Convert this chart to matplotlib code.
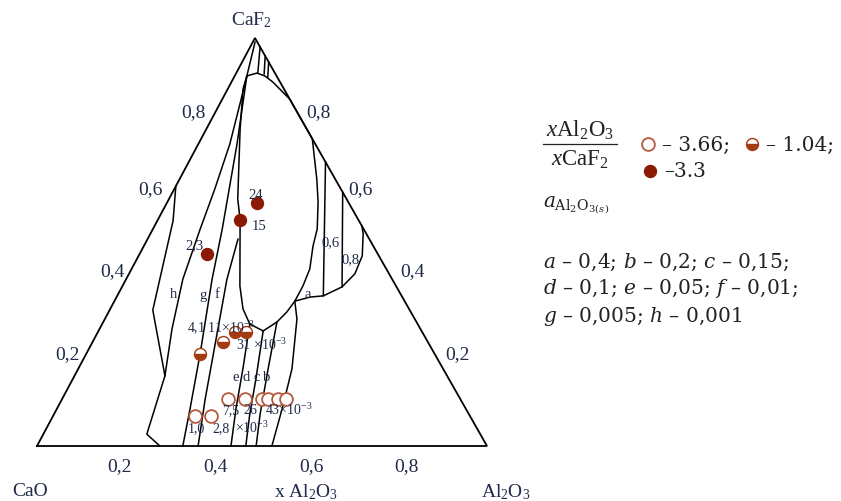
import matplotlib
matplotlib.use("Agg")
import matplotlib.pyplot as plt
import numpy as np

plt.rcParams['font.family'] = ['Liberation Serif', 'DejaVu Serif']
plt.rcParams['mathtext.fontset'] = 'custom'
plt.rcParams['mathtext.rm'] = 'Liberation Serif'
plt.rcParams['mathtext.it'] = 'Liberation Serif:italic'

W, H = 841, 502

# ---------------- data: compositions (x_Al2O3, x_CaF2) ----------------
# boundary near CaO side
bnd_cao_al = [0.000, 0.035, 0.096, 0.201, 0.230, 0.273]
bnd_cao_f = [0.637, 0.552, 0.333, 0.172, 0.029, 0.000]
# iso-activity lines of Al2O3
iso_h_al = [0.027, 0.045, 0.070, 0.090, 0.105, 0.126, 0.161, 0.201]
iso_h_f = [0.907, 0.838, 0.740, 0.630, 0.532, 0.409, 0.287, 0.172]
iso_g_al = [0.027, 0.086, 0.154, 0.191, 0.253, 0.296, 0.324]
iso_g_f = [0.907, 0.740, 0.532, 0.409, 0.226, 0.091, 0.000]
iso_f_al = [0.201, 0.224, 0.271, 0.318, 0.358]
iso_f_f = [0.507, 0.409, 0.262, 0.115, 0.000]
iso_e_al = [0.328, 0.366, 0.398, 0.431]
iso_e_f = [0.299, 0.189, 0.091, 0.000]
iso_d_al = [0.366, 0.407, 0.435, 0.464]
iso_d_f = [0.282, 0.164, 0.078, 0.000]
iso_c_al = [0.386, 0.422, 0.458, 0.487]
iso_c_f = [0.304, 0.189, 0.078, 0.000]
iso_b_al = [0.401, 0.427, 0.475, 0.499, 0.522]
iso_b_f = [0.355, 0.311, 0.189, 0.098, 0.000]
iso_a_al = [0.401, 0.430, 0.458, 0.489, 0.502, 0.497, 0.473, 0.461]
iso_a_f = [0.355, 0.365, 0.368, 0.390, 0.422, 0.466, 0.520, 0.539]
iso_06_al = [0.304, 0.458]
iso_06_f = [0.696, 0.368]
iso_08_al = [0.378, 0.489]
iso_08_f = [0.622, 0.390]
# two-liquid (miscibility) region
gap_al = [0.027, 0.046, 0.067, 0.092, 0.150, 0.247, 0.305, 0.335, 0.365, 0.376,
          0.396, 0.401, 0.401, 0.396, 0.386, 0.366, 0.328, 0.295, 0.261, 0.182,
          0.153, 0.075, 0.034, 0.027]
gap_f = [0.907, 0.914, 0.907, 0.892, 0.850, 0.753, 0.654, 0.598, 0.532, 0.490,
         0.434, 0.392, 0.355, 0.328, 0.304, 0.282, 0.299, 0.336, 0.392, 0.556,
         0.605, 0.777, 0.875, 0.907]
apex_al = [0.005, 0.027]
apex_f = [0.990, 0.907]
hatch_al = [[0.022, 0.048], [0.044, 0.063], [0.059, 0.075]]
hatch_f = [[0.978, 0.914], [0.956, 0.912], [0.941, 0.904]]

# experimental points, grouped by xAl2O3/xCaF2
pts_033_al = [0.200, 0.183, 0.150]
pts_033_f = [0.596, 0.554, 0.471]
pts_104_al = [0.253, 0.290, 0.305, 0.329]
pts_104_f = [0.226, 0.255, 0.279, 0.279]
pts_366_al = [0.316, 0.351, 0.369, 0.406, 0.444, 0.458, 0.480, 0.498]
pts_366_f = [0.074, 0.074, 0.115, 0.115, 0.115, 0.115, 0.115, 0.115]

tick_vals = [0.2, 0.4, 0.6, 0.8]
tick_text = ['0,2', '0,4', '0,6', '0,8']

# ---------------- geometry ----------------
APX, APY = 0.4844, 0.9067   # apex of drawn triangle in x_Al2O3 units
X0, Y0, S = 37.0, 447.0, 450.0  # pixel placement of CaO corner and scale


def cart(al, caf):
    al = np.asarray(al, float)
    caf = np.asarray(caf, float)
    return al + APX * caf, APY * caf


fig = plt.figure(figsize=(W / 100, H / 100), dpi=100)
ax = fig.add_axes([0, 0, 1, 1])
ax.set_xlim(-X0 / S, (W - X0) / S)
ax.set_ylim((Y0 - H) / S, Y0 / S)
ax.axis('off')

LC = 'black'
LW = 1.1

# triangle
tx, ty = cart([0, 1, 0, 0], [0, 0, 1, 0])
ax.plot(tx, ty, color=LC, lw=1.3, solid_joinstyle='miter')

for al, f in [(bnd_cao_al, bnd_cao_f), (iso_h_al, iso_h_f), (iso_g_al, iso_g_f),
              (iso_f_al, iso_f_f), (iso_e_al, iso_e_f), (iso_d_al, iso_d_f),
              (iso_c_al, iso_c_f), (iso_b_al, iso_b_f), (iso_a_al, iso_a_f),
              (iso_06_al, iso_06_f), (iso_08_al, iso_08_f), (gap_al, gap_f),
              (apex_al, apex_f)] + list(zip(hatch_al, hatch_f)):
    x, y = cart(al, f)
    ax.plot(x, y, color=LC, lw=LW)

C_FULL = '#8b1a04'
C_HALF = '#a33a12'
C_OPEN = '#b55a3c'

x, y = cart(pts_366_al, pts_366_f)
ax.plot(x, y, 'o', ls='none', ms=9.2, mfc='white', mec=C_OPEN, mew=1.3, zorder=5)
x, y = cart(pts_104_al, pts_104_f)
ax.plot(x, y, 'o', ls='none', ms=8.6, fillstyle='bottom', mfc=C_HALF,
        mfcalt='white', mec=C_HALF, mew=1.0, zorder=5)
x, y = cart(pts_033_al, pts_033_f)
ax.plot(x, y, 'o', ls='none', ms=8.6, mfc=C_FULL, mec=C_FULL, zorder=5)

TC = '#1e2a48'


def ptext(px, py, s, size=10.5, ha='center', va='center', color=TC, **kw):
    fig.text(px / W, 1 - py / H, s, size=size, ha=ha, va=va, color=color, **kw)


# axis tick labels
left_pos = [(68, 355), (112, 272), (150, 190), (193, 113)]
right_pos = [(458, 355), (412, 272), (360, 190), (318, 113)]
base_pos = [(120, 467), (215, 467), (311, 467), (406, 467)]
for t, lp, rp, bp in zip(tick_text, left_pos, right_pos, base_pos):
    ptext(*lp, t, size=14)
    ptext(*rp, t, size=14)
    ptext(*bp, t, size=14)

ptext(251, 20, r'CaF$_2$', size=14)
ptext(30, 492, 'CaO', size=14)
ptext(306, 492, r'x Al$_2$O$_3$', size=14)
ptext(506, 492, r'Al$_2$O$_3$', size=14)

# in-plot labels
ptext(256, 196, '24')
ptext(259, 227, '15')
ptext(195, 246, '2,3')
ptext(173, 295, 'h')
ptext(203, 295, 'g')
ptext(217, 295, 'f')
ptext(308, 295, 'a')
ptext(331, 243, '0,6')
ptext(351, 260, '0,8')
for s, xx in zip(['e', 'd', 'c', 'b'], [236, 246, 257, 267]):
    ptext(xx, 378, s)
ptext(187, 328, r'4,1 11$\times$10$^{-3}$', size=10, ha='left')
ptext(236, 345, r'31 $\times$10$^{-3}$', size=10, ha='left')
ptext(222, 411, '7,5', size=10, ha='left')
ptext(243, 411, '26', size=10, ha='left')
ptext(265, 410, r'43$\times$10$^{-3}$', size=10, ha='left')
ptext(188, 429, '1,0', size=10, ha='left')
ptext(212, 429, '2,8', size=10, ha='left')
ptext(235, 428, r'$\times$10$^{-3}$', size=10, ha='left')

# ---------------- legend block (right) ----------------
LK = '#222222'
ptext(580, 130, r'$x$Al$_2$O$_3$', size=16.5, color=LK)
fig.add_artist(plt.Line2D([543 / W, 617 / W], [1 - 145 / H, 1 - 145 / H],
                          color=LK, lw=0.9))
ptext(580, 160, r'$x$CaF$_2$', size=16.5, color=LK)

LEG = dict(size=14.5, ha='left', color=LK, family='DejaVu Serif',
           math_fontfamily='dejavuserif')
lx, ly = (648 - X0) / S, (Y0 - 145) / S
ax.plot([lx], [ly], 'o', ms=9.2, mfc='white', mec=C_OPEN, mew=1.3)
ptext(662, 145, '– 3.66;', **LEG)
lx2 = (752 - X0) / S
ax.plot([lx2], [ly], 'o', ms=8.6, fillstyle='bottom', mfc=C_HALF,
        mfcalt='white', mec=C_HALF)
ptext(766, 145, '– 1.04;', **LEG)
ax.plot([(650 - X0) / S], [(Y0 - 172) / S], 'o', ms=8.6, mfc=C_FULL, mec=C_FULL)
ptext(664, 172, '–3.3', **LEG)

ptext(543, 205, r'$a_{\mathrm{Al_2O_{3(}}{}_{s}{}_{\mathrm{)}}}$', **LEG)
ptext(543, 262, r'$a$ – 0,4; $b$ – 0,2; $c$ – 0,15;', **LEG)
ptext(543, 289, r'$d$ – 0,1; $e$ – 0,05; $f$ – 0,01;', **LEG)
ptext(543, 316, r'$g$ – 0,005; $h$ – 0,001', **LEG)

fig.savefig('out.png', dpi=100)
